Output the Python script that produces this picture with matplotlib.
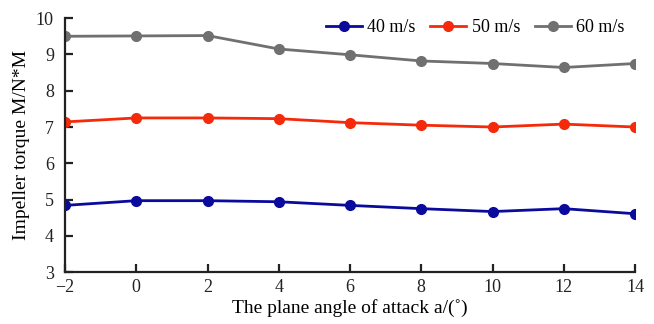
import matplotlib
matplotlib.use("Agg")
import matplotlib.pyplot as plt

# angle of attack (deg)
angles = [-2, 0, 2, 4, 6, 8, 10, 12, 14]

# impeller torque at each flow speed
torque_40 = [4.84, 4.97, 4.97, 4.94, 4.84, 4.75, 4.67, 4.75, 4.61]
torque_50 = [7.14, 7.25, 7.25, 7.23, 7.12, 7.05, 7.00, 7.08, 7.00]
torque_60 = [9.50, 9.51, 9.52, 9.15, 8.99, 8.82, 8.75, 8.64, 8.75]

labels = ["40 m/s", "50 m/s", "60 m/s"]
colors = ["#0A0A9C", "#F52A0A", "#707070"]

plt.rcParams["font.family"] = ["Liberation Serif", "DejaVu Serif"]

fig = plt.figure(figsize=(6.54, 3.24), dpi=100)
ax = fig.add_axes([0.0994, 0.160, 0.8716, 0.784])

for ys, lab, c in zip([torque_40, torque_50, torque_60], labels, colors):
    ax.plot(angles, ys, color=c, lw=2, marker="o", markersize=7, label=lab)

ax.set_xlim(-2, 14)
ax.set_ylim(3, 10)
ax.set_xticks(range(-2, 15, 2))
ax.set_yticks(range(3, 11))
ax.set_xticklabels(["\u22122"] + [str(v) for v in range(0, 15, 2)])

for side in ["top", "right"]:
    ax.spines[side].set_visible(False)
for side in ["left", "bottom"]:
    ax.spines[side].set_linewidth(1.6)
    ax.spines[side].set_color("#222222")
ax.tick_params(direction="in", length=6, width=1.6, labelsize=13, colors="#222222")
ax.tick_params(axis="y", pad=8)
ax.tick_params(axis="x", pad=5)
ax.set_xlabel("The plane angle of attack a/(\u02da)", fontsize=14, labelpad=2)
ax.set_ylabel("Impeller torque M/N*M", fontsize=14, labelpad=4)

ax.legend(loc="upper right", bbox_to_anchor=(1.01, 1.06), ncol=3, frameon=False,
          fontsize=13, handlelength=2.0, handletextpad=0.3, columnspacing=0.8)

fig.savefig("out.png", dpi=100)
